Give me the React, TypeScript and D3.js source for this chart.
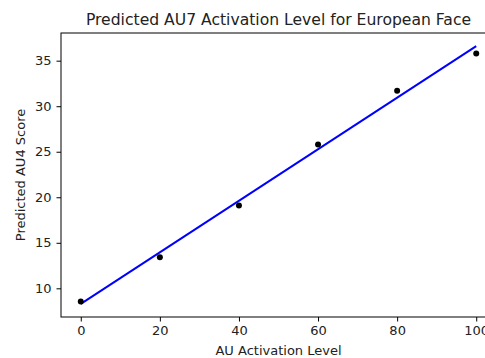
import React, { useEffect, useRef } from 'react'
import * as d3 from 'd3'

const activation = [0, 20, 40, 60, 80, 100]
const predicted = [8.55, 13.4, 19.1, 25.8, 31.7, 35.8]
const fitX = [0, 100]
const fitY = [8.3, 36.6]
const xTicks = [0, 20, 40, 60, 80, 100]
const yTicks = [10, 15, 20, 25, 30, 35]

const App: React.FC = () => {
  const ref = useRef<SVGSVGElement>(null)

  useEffect(() => {
    const svg = d3.select(ref.current)
    svg.selectAll('*').remove()

    const left = 61
    const right = 496
    const top = 33
    const bottom = 317
    const font = 'DejaVu Sans, sans-serif'

    const x = d3.scaleLinear().domain([-5, 105]).range([left, right])
    const y = d3.scaleLinear().domain([6.85, 38.04]).range([bottom, top])

    svg.append('rect').attr('width', 485).attr('height', 358).attr('fill', '#fff')

    const xAxis = svg
      .append('g')
      .attr('transform', `translate(0,${bottom})`)
      .call(d3.axisBottom(x).tickValues(xTicks).tickSize(4.5).tickPadding(4).tickSizeOuter(0))
    const yAxis = svg
      .append('g')
      .attr('transform', `translate(${left},0)`)
      .call(d3.axisLeft(y).tickValues(yTicks).tickSize(4.5).tickPadding(5).tickSizeOuter(0))

    for (const g of [xAxis, yAxis]) {
      g.select('.domain').remove()
      g.selectAll('line').attr('stroke', '#000').attr('stroke-width', 1)
      g.selectAll('text').attr('fill', '#222').style('font-family', font).style('font-size', '13px')
    }

    // spines
    svg
      .append('rect')
      .attr('x', left)
      .attr('y', top)
      .attr('width', right - left)
      .attr('height', bottom - top)
      .attr('fill', 'none')
      .attr('stroke', '#000')
      .attr('stroke-width', 1)

    const line = d3
      .line<number>()
      .x((d) => x(d))
      .y((_, i) => y(fitY[i]))
    svg
      .append('path')
      .attr('d', line(fitX))
      .attr('fill', 'none')
      .attr('stroke', '#0000ff')
      .attr('stroke-width', 2)

    svg
      .selectAll('circle')
      .data(activation)
      .enter()
      .append('circle')
      .attr('cx', (d) => x(d))
      .attr('cy', (_, i) => y(predicted[i]))
      .attr('r', 3)
      .attr('fill', '#000')

    svg
      .append('text')
      .attr('x', (left + right) / 2)
      .attr('y', 25)
      .attr('text-anchor', 'middle')
      .attr('fill', '#222')
      .style('font-family', font)
      .style('font-size', '15.6px')
      .text('Predicted AU7 Activation Level for European Face')

    svg
      .append('text')
      .attr('x', (left + right) / 2)
      .attr('y', 355)
      .attr('text-anchor', 'middle')
      .attr('fill', '#222')
      .style('font-family', font)
      .style('font-size', '13px')
      .text('AU Activation Level')

    svg
      .append('text')
      .attr('transform', `translate(25,${(top + bottom) / 2}) rotate(-90)`)
      .attr('text-anchor', 'middle')
      .attr('fill', '#222')
      .style('font-family', font)
      .style('font-size', '13px')
      .text('Predicted AU4 Score')
  }, [])

  return <svg ref={ref} width={485} height={358} style={{ position: 'absolute', left: 0, top: 0 }} />
}

export default App
